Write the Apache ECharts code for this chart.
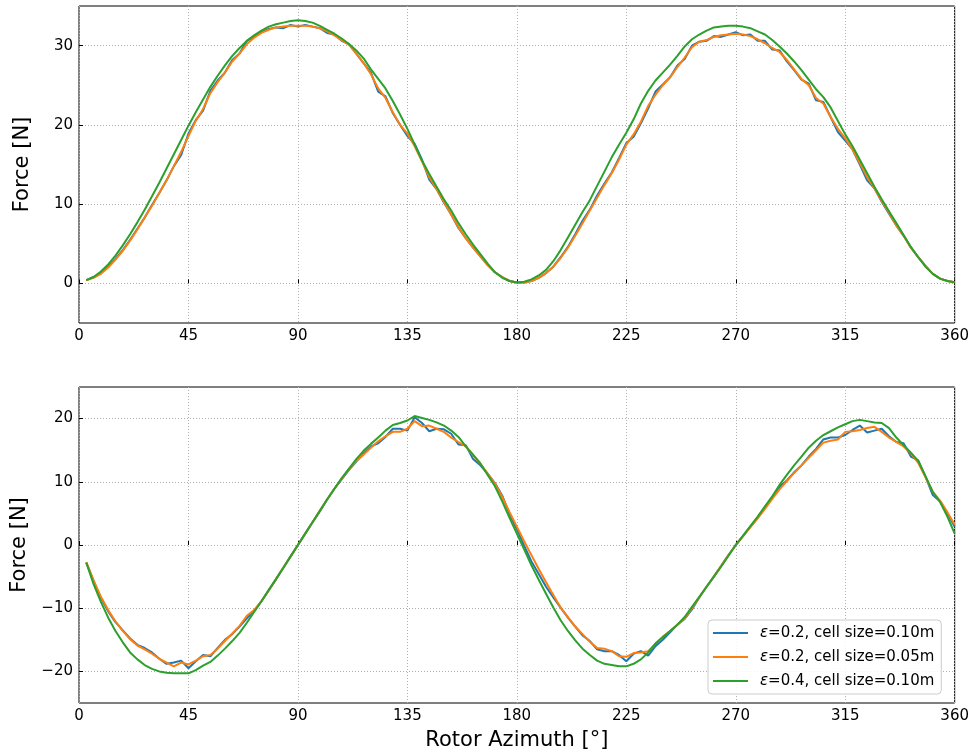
<!DOCTYPE html>
<html><head><meta charset="utf-8">
<script src="https://cdn.jsdelivr.net/npm/echarts@6/dist/echarts.min.js"></script>
<style>html,body{margin:0;padding:0;background:#fff}#c{width:972px;height:756px}</style>
</head><body><div id="c"></div>
<script>
// Rotor azimuth samples (degrees)
const angles = [3,6,9,12,15,18,21,24,27,30,33,36,39,42,45,48,51,54,57,60,63,66,69,72,75,78,81,84,87,90,
93,96,99,102,105,108,111,114,117,120,123,126,129,132,135,138,141,144,147,150,153,156,159,162,165,168,171,174,177,180,
183,186,189,192,195,198,201,204,207,210,213,216,219,222,225,228,231,234,237,240,243,246,249,252,255,258,261,264,267,270,
273,276,279,282,285,288,291,294,297,300,303,306,309,312,315,318,321,324,327,330,333,336,339,342,345,348,351,354,357,360];

const seriesNames = ['ε=0.2, cell size=0.10m', 'ε=0.2, cell size=0.05m', 'ε=0.4, cell size=0.10m'];
const seriesColors = ['#1f77b4', '#ff7f0e', '#2ca02c'];

// Top panel
const topBlue = [0.4,0.8,1.3,2.1,3.1,4.2,5.5,6.9,8.3,9.9,
11.4,13.0,14.8,16.2,18.9,20.6,21.8,24.3,25.6,26.6,
28.2,29.0,30.6,31.1,31.7,32.1,32.3,32.2,32.6,32.4,
32.6,32.4,32.2,31.6,31.4,30.6,30.2,29.0,27.8,26.6,
24.2,23.6,21.5,20.0,18.6,17.6,15.6,13.1,11.9,10.2,
8.7,7.0,5.7,4.5,3.4,2.3,1.4,0.8,0.3,0.1,
0.1,0.3,0.7,1.3,2.1,3.3,4.6,6.2,7.9,9.3,
11.1,12.6,14.0,15.8,17.7,18.5,20.2,22.1,24.2,25.1,
26.0,27.5,28.3,30.0,30.5,30.6,31.2,31.1,31.4,31.7,
31.3,31.4,30.6,30.6,29.5,29.4,28.0,26.9,25.7,25.2,
23.1,22.9,21.0,19.1,18.0,16.9,15.0,13.0,12.0,10.3,
8.8,7.3,6.0,4.5,3.3,2.2,1.2,0.6,0.3,0.15];
const topOrange = [0.4,0.7,1.2,2.0,3.0,4.1,5.4,6.8,8.3,9.8,
11.4,13.0,14.8,16.6,18.6,20.5,22.0,24.0,25.4,26.6,
28.0,29.0,30.2,31.0,31.6,32.0,32.3,32.4,32.5,32.5,
32.5,32.4,32.2,31.8,31.3,30.7,30.1,29.0,27.8,26.4,
24.6,23.4,21.6,20.0,18.9,17.3,15.4,13.4,11.9,10.3,
8.7,7.1,5.7,4.5,3.4,2.3,1.4,0.8,0.3,0.1,
0.1,0.3,0.7,1.3,2.1,3.2,4.5,6.0,7.6,9.2,
10.8,12.4,13.9,15.6,17.5,18.8,20.4,22.4,23.8,25.0,
26.0,27.3,28.5,29.8,30.5,30.7,31.1,31.3,31.4,31.5,
31.4,31.2,30.8,30.3,29.7,29.2,28.2,27.0,25.8,25.0,
23.4,22.7,21.0,19.5,18.3,16.9,15.2,13.4,12.0,10.4,
8.9,7.3,6.0,4.5,3.3,2.2,1.2,0.6,0.3,0.15];
const topGreen = [0.4,0.8,1.5,2.4,3.5,4.8,6.2,7.7,9.3,11.0,
12.7,14.5,16.3,18.1,19.9,21.6,23.2,24.8,26.2,27.5,
28.7,29.7,30.6,31.3,31.9,32.4,32.7,32.9,33.1,33.2,
33.1,32.9,32.5,32.0,31.5,30.9,30.2,29.4,28.4,27.0,
25.8,24.6,23.0,21.3,19.5,17.5,15.5,13.8,12.2,10.6,
9.2,7.6,6.2,4.9,3.7,2.5,1.4,0.7,0.3,0.1,
0.2,0.5,1.0,1.7,2.8,4.2,5.8,7.4,9.0,10.5,
12.3,14.1,15.9,17.5,19.0,20.7,22.7,24.3,25.6,26.6,
27.6,28.7,29.9,30.8,31.4,31.9,32.3,32.4,32.5,32.5,
32.4,32.2,31.8,31.4,30.7,29.9,29.0,28.0,26.9,25.7,
24.5,23.5,22.2,20.5,18.8,17.3,15.6,13.9,12.2,10.6,
9.1,7.6,6.1,4.6,3.3,2.1,1.2,0.6,0.3,0.15];

// Bottom panel
const botBlue = [-2.8,-5.7,-8.4,-10.5,-12.2,-13.5,-14.8,-15.8,-16.3,-17.0,
-18.0,-18.8,-18.6,-18.3,-19.5,-18.4,-17.4,-17.6,-16.3,-15.0,
-14.1,-12.9,-11.6,-10.4,-8.9,-7.2,-5.4,-3.6,-1.8,0.0,
1.8,3.6,5.3,7.2,8.9,10.4,11.9,13.2,14.5,15.6,
16.1,17.1,18.4,18.4,18.1,20.2,19.3,18.0,18.4,18.3,
17.6,15.9,15.8,13.6,12.6,11.3,9.8,7.8,4.9,2.5,
-0.1,-2.6,-4.6,-6.6,-8.3,-9.9,-11.5,-12.9,-14.3,-15.2,
-16.5,-16.8,-16.8,-17.4,-18.4,-17.2,-16.8,-17.5,-16.0,-15.0,
-13.8,-12.6,-11.7,-10.2,-8.3,-6.6,-5.0,-3.3,-1.6,0.0,
1.4,2.9,4.3,5.9,7.6,9.2,10.2,11.5,12.6,14.0,
15.2,16.7,17.0,17.0,17.4,18.2,18.9,17.8,18.1,18.4,
17.2,16.3,16.1,14.0,13.4,10.8,7.9,6.9,5.0,2.9];
const botOrange = [-2.7,-5.6,-8.2,-10.3,-12.1,-13.6,-14.9,-15.9,-16.5,-17.2,
-18.0,-18.6,-19.2,-18.6,-18.9,-18.3,-17.6,-17.4,-16.4,-15.2,
-14.0,-12.8,-11.2,-10.3,-8.9,-7.2,-5.4,-3.6,-1.8,0.0,
1.8,3.6,5.4,7.2,8.9,10.5,12.0,13.3,14.3,15.4,
16.4,17.2,17.9,17.9,18.4,19.6,18.8,18.9,18.4,17.9,
17.0,16.3,15.6,14.2,12.9,11.3,9.7,7.6,5.2,2.9,
0.6,-1.6,-3.8,-5.9,-7.9,-9.9,-11.4,-12.9,-14.1,-15.3,
-16.3,-16.4,-16.8,-17.6,-17.7,-17.1,-17.0,-16.8,-15.6,-14.5,
-13.6,-12.6,-11.6,-10.0,-8.3,-6.6,-5.0,-3.3,-1.6,0.0,
1.4,2.8,4.2,5.7,7.3,8.8,10.1,11.4,12.6,13.8,
15.0,16.2,16.5,16.7,17.9,18.0,18.2,18.5,18.7,17.9,
17.0,16.3,15.6,14.5,13.0,10.7,8.4,7.0,5.2,3.2];
const botGreen = [-2.8,-6.2,-9.0,-11.5,-13.6,-15.4,-17.0,-18.1,-19.0,-19.6,
-20.0,-20.2,-20.3,-20.3,-20.3,-19.8,-19.1,-18.5,-17.5,-16.4,
-15.2,-13.9,-12.3,-10.6,-8.9,-7.1,-5.4,-3.6,-1.8,0.0,
1.8,3.6,5.4,7.2,8.9,10.6,12.1,13.6,14.9,16.0,
17.0,18.1,19.0,19.3,19.7,20.4,20.1,19.8,19.4,18.9,
18.1,17.1,15.6,14.3,12.9,11.1,9.3,6.9,4.3,1.8,
-0.7,-3.2,-5.5,-7.7,-9.9,-11.9,-13.6,-15.1,-16.4,-17.4,
-18.3,-18.8,-19.0,-19.2,-19.2,-18.8,-18.1,-17.0,-15.6,-14.6,
-13.6,-12.6,-11.4,-9.8,-8.2,-6.6,-5.0,-3.4,-1.7,0.0,
1.5,3.0,4.5,6.1,7.7,9.5,11.1,12.6,14.0,15.4,
16.5,17.4,18.0,18.6,19.1,19.6,19.8,19.6,19.4,19.3,
18.5,17.0,15.8,14.6,13.3,10.9,8.4,6.8,4.5,1.8];

const xTicks = 45;
const topYTicks = [0, 10, 20, 30];
const botYTicks = [-20, -10, 0, 10, 20];

const FONT = 'DejaVu Sans';
const fmt = v => String(v).replace('-', '\u2212');

function makeX(gi, name) {
  return {
    type: 'value', gridIndex: gi, min: 0, max: 360, interval: xTicks,
    axisLine: { show: false },
    axisTick: { show: true, inside: true, length: 4, lineStyle: { color: '#000', width: 1 } },
    axisLabel: { color: '#000', fontSize: 15, fontFamily: FONT, margin: 6, formatter: fmt },
    splitLine: { show: true, lineStyle: { color: '#b0b0b0', type: [1, 2], width: 1 } },
    name: name, nameLocation: 'middle', nameGap: 27,
    nameTextStyle: { color: '#000', fontSize: 21, fontFamily: FONT }
  };
}
function makeY(gi, min, max, ticks) {
  return {
    type: 'value', gridIndex: gi, min: min, max: max,
    axisLine: { show: false },
    axisTick: { show: true, inside: true, length: 4, customValues: ticks, lineStyle: { color: '#000', width: 1 } },
    axisLabel: { color: '#000', fontSize: 15, fontFamily: FONT, margin: 6, customValues: ticks, formatter: fmt },
    splitLine: { show: true, lineStyle: { color: '#b0b0b0', type: [1, 2], width: 1 } },
    name: 'Force [N]', nameLocation: 'middle', nameGap: 46,
    nameTextStyle: { color: '#000', fontSize: 21, fontFamily: FONT }
  };
}
function line(name, color, gi, vals) {
  return {
    type: 'line', name: name, xAxisIndex: gi, yAxisIndex: gi,
    data: angles.map((a, i) => [a, vals[i]]),
    symbol: 'none', showSymbol: false,
    lineStyle: { color: color, width: 2 }, itemStyle: { color: color },
    clip: true
  };
}

const chart = echarts.init(document.getElementById('c'), null, { renderer: 'canvas' });
chart.setOption({
  animation: false,
  backgroundColor: '#fff',
  grid: [
    { left: 79, top: 6, width: 876, height: 317, show: true, borderColor: '#000', borderWidth: 1, backgroundColor: 'transparent' },
    { left: 79, top: 387, width: 876, height: 316, show: true, borderColor: '#000', borderWidth: 1, backgroundColor: 'transparent' }
  ],
  xAxis: [makeX(0, ''), makeX(1, 'Rotor Azimuth [°]')],
  yAxis: [makeY(0, -5, 35, topYTicks), makeY(1, -25, 25, botYTicks)],
  legend: {
    data: seriesNames, orient: 'vertical', left: 708, top: 620,
    icon: 'rect', itemWidth: 35, itemHeight: 2, itemGap: 6,
    padding: [4, 7, 4, 5],
    backgroundColor: 'rgba(255,255,255,0.85)', borderColor: '#cccccc', borderWidth: 1, borderRadius: 4,
    formatter: n => '{i|ε}' + n.slice(1),
    textStyle: { color: '#000', fontSize: 15, fontFamily: FONT, lineHeight: 18, padding: [0, 0, 0, 7],
      rich: { i: { fontStyle: 'italic', fontSize: 15, fontFamily: FONT, color: '#000', lineHeight: 18 } } }
  },
  series: [
    line(seriesNames[0], seriesColors[0], 0, topBlue),
    line(seriesNames[1], seriesColors[1], 0, topOrange),
    line(seriesNames[2], seriesColors[2], 0, topGreen),
    line(seriesNames[0], seriesColors[0], 1, botBlue),
    line(seriesNames[1], seriesColors[1], 1, botOrange),
    line(seriesNames[2], seriesColors[2], 1, botGreen)
  ]
});
</script>
</body></html>
